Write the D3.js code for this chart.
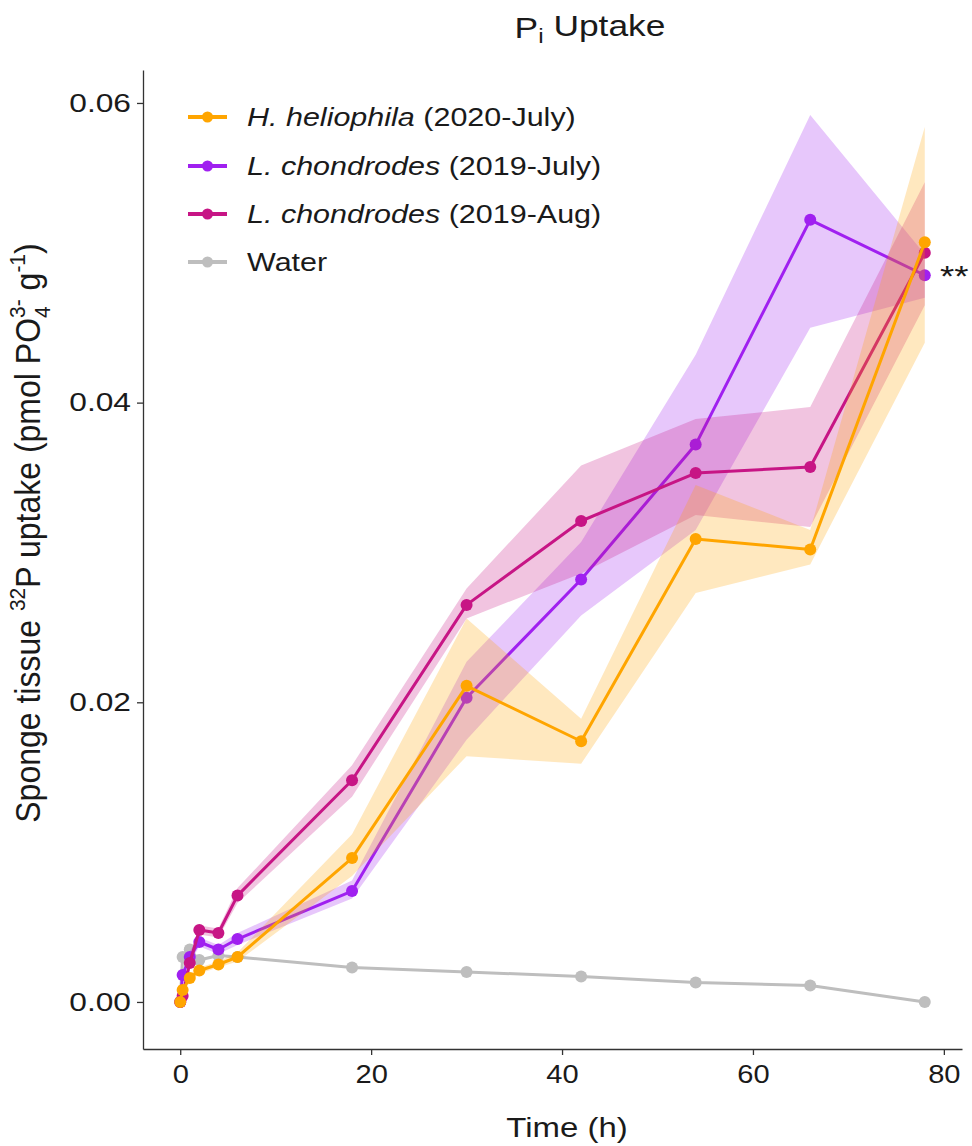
<!DOCTYPE html>
<html>
<head>
<meta charset="utf-8">
<script src="https://cdn.jsdelivr.net/npm/d3@7/dist/d3.min.js"></script>
<style>
  html, body { margin: 0; padding: 0; background: #fff; }
  svg { display: block; font-family: "Liberation Sans", Arial, sans-serif; }
</style>
</head>
<body>
<svg id="chart" width="972" height="1146"></svg>
<script>
// Sampling times (h)
const times = [0, 0.25, 1, 2, 4, 6, 18, 30, 42, 54, 66, 78];

// H. heliophila (2020-July): mean and ribbon bounds
const heliophilaMean = [0, 0.0008, 0.0016, 0.0021, 0.0025, 0.0030, 0.0096, 0.0211, 0.0174, 0.0309, 0.0302, 0.0507];
const heliophilaLow  = [0, 0.0006, 0.0013, 0.0019, 0.0023, 0.0027, 0.0084, 0.0164, 0.0159, 0.0273, 0.0292, 0.0440];
const heliophilaHigh = [0, 0.0010, 0.0019, 0.0023, 0.0027, 0.0033, 0.0112, 0.0256, 0.0189, 0.0345, 0.0315, 0.0584];

// L. chondrodes (2019-July)
const july19Mean = [0, 0.0018, 0.0030, 0.0040, 0.0035, 0.0042, 0.0074, 0.0203, 0.0282, 0.0372, 0.0522, 0.0485];
const july19Low  = [0, 0.0015, 0.0026, 0.0037, 0.0032, 0.0038, 0.0069, 0.0175, 0.0258, 0.0315, 0.0450, 0.0470];
const july19High = [0, 0.0021, 0.0034, 0.0043, 0.0038, 0.0046, 0.0081, 0.0227, 0.0307, 0.0432, 0.0592, 0.0499];

// L. chondrodes (2019-Aug)
const aug19Mean = [0, 0.0004, 0.0026, 0.0048, 0.0046, 0.0071, 0.0148, 0.0265, 0.0321, 0.0353, 0.0357, 0.0500];
const aug19Low  = [0, 0.0002, 0.0022, 0.0045, 0.0043, 0.0066, 0.0137, 0.0256, 0.0286, 0.0325, 0.0317, 0.0465];
const aug19High = [0, 0.0006, 0.0030, 0.0051, 0.0049, 0.0076, 0.0158, 0.0276, 0.0358, 0.0389, 0.0397, 0.0547];

// Water control
const waterMean = [0, 0.0030, 0.0035, 0.0028, 0.0031, 0.0030, 0.0023, 0.0020, 0.0017, 0.0013, 0.0011, 0.0000];

const xTicks = [0, 20, 40, 60, 80];
const yTicks = [0, 0.02, 0.04, 0.06];

// Series in legend order
const series = [
  { key: "hel",   italic: "H. heliophila", rest: " (2020-July)", color: "#FFA500", mean: heliophilaMean, low: heliophilaLow, high: heliophilaHigh },
  { key: "jul19", italic: "L. chondrodes", rest: " (2019-July)", color: "#A020F0", mean: july19Mean, low: july19Low, high: july19High },
  { key: "aug19", italic: "L. chondrodes", rest: " (2019-Aug)",  color: "#C71585", mean: aug19Mean, low: aug19Low, high: aug19High },
  { key: "water", italic: "", rest: "Water", color: "#BEBEBE", mean: waterMean, low: null, high: null }
];
// Paint order: water underneath, then the sponge series
const drawOrder = ["water", "jul19", "aug19", "hel"];

const svg = d3.select("#chart");
const SX = 1.22; // horizontal glyph stretch

const panel = { left: 143, right: 962, top: 70, bottom: 1049 };
const x = d3.scaleLinear().domain([-3.9, 81.9]).range([panel.left, panel.right]);
const y = d3.scaleLinear().domain([-0.00314, 0.0622]).range([panel.bottom, panel.top]);

const plot = svg.append("g");

const area = d3.area()
  .x(d => x(d.t)).y0(d => y(d.lo)).y1(d => y(d.hi));
const line = d3.line().x(d => x(d.t)).y(d => y(d.v));

drawOrder.forEach(k => {
  const s = series.find(d => d.key === k);
  const g = plot.append("g");
  if (s.low) {
    const rib = times.map((t, i) => ({ t, lo: s.low[i], hi: s.high[i] }));
    g.append("path").attr("d", area(rib))
      .attr("fill", s.color).attr("fill-opacity", 0.25).attr("stroke", "none");
  }
  const pts = times.map((t, i) => ({ t, v: s.mean[i] }));
  g.append("path").attr("d", line(pts))
    .attr("fill", "none").attr("stroke", s.color).attr("stroke-width", 3)
    .attr("stroke-linejoin", "round");
  g.selectAll("circle").data(pts).enter().append("circle")
    .attr("cx", d => x(d.t)).attr("cy", d => y(d.v)).attr("r", 6)
    .attr("fill", s.color);
});

// Axes
const axisColor = "#333333";
const yAxis = svg.append("g").attr("transform", `translate(${panel.left},0)`)
  .call(d3.axisLeft(y).tickValues(yTicks).tickFormat(d3.format(".2f")).tickSize(6).tickSizeOuter(0).tickPadding(6));
const xAxis = svg.append("g").attr("transform", `translate(0,${panel.bottom})`)
  .call(d3.axisBottom(x).tickValues(xTicks).tickFormat(d3.format("d")).tickSize(6).tickSizeOuter(0).tickPadding(10));

[yAxis, xAxis].forEach(a => {
  a.select(".domain").attr("stroke", axisColor).attr("stroke-width", 1.3);
  a.selectAll(".tick line").attr("stroke", axisColor).attr("stroke-width", 1.3);
  a.selectAll(".tick text").attr("fill", "#1a1a1a").style("font-size", "26px")
    .style("font-family", "'Liberation Sans', Arial, sans-serif");
});
yAxis.selectAll(".tick text").attr("transform", `scale(${SX},1)`).attr("x", -12 / SX);
xAxis.selectAll(".tick text").attr("transform", `scale(1.12,1)`);

// Title
const title = svg.append("text")
  .attr("transform", `translate(590,38) scale(${SX},1)`)
  .attr("text-anchor", "middle").attr("fill", "#1a1a1a").style("font-size", "29px");
title.append("tspan").text("P");
title.append("tspan").attr("dy", "0.25em").style("font-size", "20px").text("i");
title.append("tspan").attr("dy", "-0.25em").text(" Uptake");

// X title
svg.append("text")
  .attr("transform", `translate(567,1137) scale(${SX},1)`)
  .attr("text-anchor", "middle").attr("fill", "#1a1a1a").style("font-size", "27px")
  .text("Time (h)");

// Y title with super/subscripts
const fsY = 32, fsSmall = 21;
const yt = svg.append("text")
  .attr("transform", `translate(40,533) rotate(-90) scale(1,1.08)`)
  .attr("text-anchor", "middle").attr("fill", "#1a1a1a").style("font-size", fsY + "px");
yt.append("tspan").text("Sponge tissue ");
yt.append("tspan").attr("dy", -0.42 * fsY).style("font-size", fsSmall + "px").text("32");
yt.append("tspan").attr("dy", 0.42 * fsY).text("P uptake (pmol PO");
yt.append("tspan").attr("dy", 0.28 * fsY).style("font-size", fsSmall + "px").text("4");
yt.append("tspan").attr("dy", -0.72 * fsY).attr("dx", -0.556 * fsSmall).style("font-size", fsSmall + "px").text("3-");
yt.append("tspan").attr("dy", 0.44 * fsY).text(" g");
yt.append("tspan").attr("dy", -0.42 * fsY).style("font-size", fsSmall + "px").text("-1");
yt.append("tspan").attr("dy", 0.42 * fsY).text(")");

// Significance marker
svg.append("text")
  .attr("transform", `translate(940,286) scale(${SX},1)`)
  .attr("fill", "#1a1a1a").style("font-size", "30px").text("**");

// Legend
const legend = svg.append("g");
const rowY = [117, 166, 214, 262];
series.forEach((s, i) => {
  const g = legend.append("g").attr("transform", `translate(0,${rowY[i]})`);
  g.append("line").attr("x1", 188).attr("x2", 227).attr("y1", 0).attr("y2", 0)
    .attr("stroke", s.color).attr("stroke-width", 4);
  g.append("circle").attr("cx", 207.5).attr("cy", 0).attr("r", 5.5).attr("fill", s.color);
  const t = g.append("text").attr("transform", `translate(247,9) scale(1.22,1)`)
    .attr("fill", "#1a1a1a").style("font-size", "25px");
  if (s.italic) t.append("tspan").style("font-style", "italic").text(s.italic);
  t.append("tspan").text(s.rest);
});
</script>
</body>
</html>
